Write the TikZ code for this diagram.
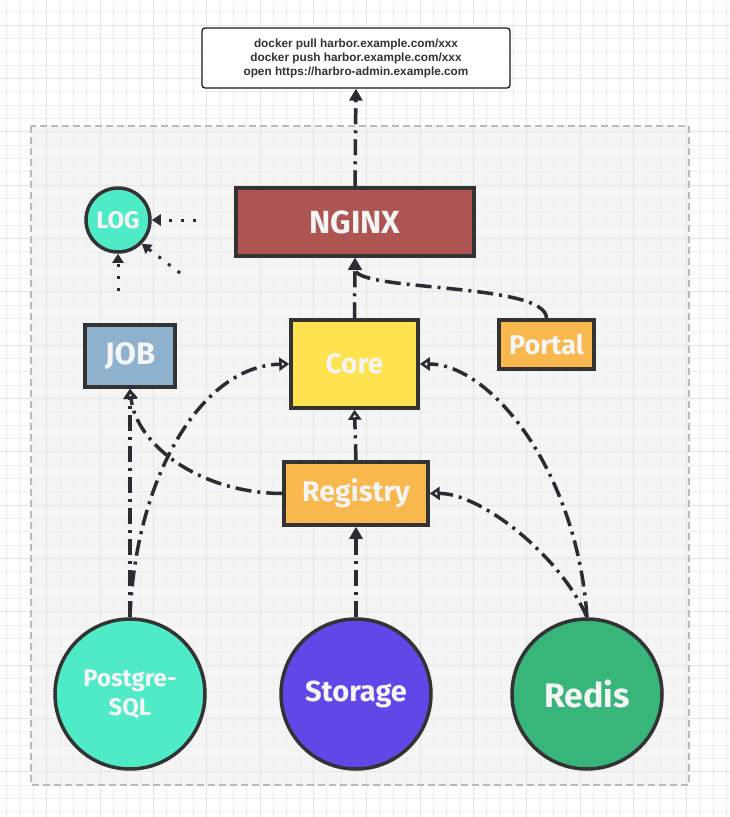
\documentclass[tikz,border=0pt]{standalone}
\usepackage{fontspec}
\setmainfont{Liberation Sans}
\newfontfamily\boxfont{Fira Sans}
\usetikzlibrary{arrows.meta}

\definecolor{ink}{HTML}{2B2B33}
\definecolor{edgegrey}{HTML}{333333}
\definecolor{paper}{HTML}{F5F5F5}
\definecolor{gridminor}{HTML}{EEEEEE}
\definecolor{gridmajor}{HTML}{E4E4E4}
\definecolor{nginxred}{HTML}{AE5551}
\definecolor{aqua}{HTML}{4FEBC6}
\definecolor{jobblue}{HTML}{8EB2CD}
\definecolor{coreyellow}{HTML}{FEE24F}
\definecolor{amber}{HTML}{F8B84E}
\definecolor{violet}{HTML}{5F47E8}
\definecolor{redisgreen}{HTML}{38B57A}

\begin{document}
\begin{tikzpicture}[x=1pt, y=-1pt,
    box/.style={draw=edgegrey, line width=3.5pt, text=paper, font=\boxfont\bfseries},
    disc/.style={box, circle, minimum size=150pt, inner sep=0pt},
    flow/.style={draw=ink, line width=3.5pt, dash pattern=on 16pt off 6pt on 3pt off 6pt},
    hollow/.style={-{Triangle[open,length=10pt,width=13pt]}},
    filled/.style={-{Triangle[length=12pt,width=13pt]}},
    logflow/.style={draw=ink, line width=3pt, dash pattern=on 3pt off 9pt, -{Triangle[length=9pt,width=11pt]}}]
    \useasboundingbox (0,0) rectangle (730,817);
    \fill[white] (0,0) rectangle (730,817);
    \fill[paper] (31,126) rectangle (689,785);
    \foreach \i in {0,...,54} \draw[gridminor, line width=0.8pt] ({6.67+13.333*\i},0) -- ++(0,817);
    \foreach \j in {0,...,61} \draw[gridminor, line width=0.8pt] (0,{11.67+13.333*\j}) -- ++(730,0);
    \foreach \i in {0,...,13} \draw[gridmajor, line width=0.8pt] ({46.67+53.333*\i},0) -- ++(0,817);
    \foreach \j in {0,...,15} \draw[gridmajor, line width=0.8pt] (0,{25+53.333*\j}) -- ++(730,0);
    \draw[black!27, line width=1.3pt, dash pattern=on 7pt off 4pt] (31,126) rectangle (689,785);

    \node[draw=black!90, line width=1.3pt, rounded corners=3pt, fill=white, align=center,
        minimum width=308pt, minimum height=60pt,
        font=\fontsize{11.8}{14}\selectfont\bfseries, text=black!80] (Cmd) at (356,58)
        {docker pull harbor.example.com/xxx\\docker push harbor.example.com/xxx\\open https://harbro-admin.example.com};

    \node[box, fill=nginxred, minimum width=238pt, minimum height=68pt, font=\boxfont\bfseries\fontsize{32}{34}\selectfont] (NGINX) at (355,222) {NGINX};
    \node[box, circle, fill=aqua, minimum size=64pt, inner sep=0pt, font=\boxfont\bfseries\fontsize{24}{26}\selectfont] (Log) at (118,220) {LOG};
    \node[box, fill=jobblue, minimum width=90pt, minimum height=62pt, font=\boxfont\bfseries\fontsize{31}{33}\selectfont] (Job) at (130,356) {JOB};
    \node[box, fill=coreyellow, minimum width=127pt, minimum height=88pt, font=\boxfont\bfseries\fontsize{28}{30}\selectfont] (Core) at (354.5,364) {Core};
    \node[box, fill=amber, minimum width=95pt, minimum height=49pt, font=\boxfont\bfseries\fontsize{27}{29}\selectfont] (Portal) at (546.5,344.5) {Portal};
    \node[box, fill=amber, minimum width=144pt, minimum height=63pt, font=\boxfont\bfseries\fontsize{28.5}{30}\selectfont] (Registry) at (356,493.5) {Registry};

    \node[disc, fill=aqua, align=center, font=\boxfont\bfseries\fontsize{24}{29}\selectfont] (Pg) at (130,694) {Postgre-\\SQL};
    \node[disc, fill=violet, font=\boxfont\bfseries\fontsize{29}{31}\selectfont] (Storage) at (356,694) {Storage};
    \node[disc, fill=redisgreen, font=\boxfont\bfseries\fontsize{34}{36}\selectfont] (Redis) at (587,694) {Redis};

    \coordinate (LogA) at (196,220);
    \coordinate (LogB) at (180,273);
    \coordinate (LogC) at (118,291);

    \draw[flow, filled] (NGINX.north) -- (Cmd.south);
    \draw[flow, filled] (Core.north) -- (NGINX.south);
    \draw[flow, filled] (Portal.north) .. controls (546.5,282) and (355,292) .. (NGINX.south);
    \draw[flow, hollow] (Registry.north) -- (Core.south);
    \draw[flow, filled] (Storage.north) -- (Registry.south);
    \draw[flow, hollow] (Pg.north) -- (Job.south);
    \draw[flow, hollow] (Pg.north) .. controls (135,480) and (200,366) .. (Core.west);
    \draw[flow, hollow] (Registry.west) .. controls (200,493) and (136,445) .. (Job.south);
    \draw[flow, hollow] (Redis.north) .. controls (577,470) and (490,364) .. (Core.east);
    \draw[flow, hollow] (Redis.north) .. controls (560,555) and (480,493) .. (Registry.east);

    \draw[logflow] (LogA) -- (Log.east);
    \draw[logflow] (LogB) -- (Log.south east);
    \draw[logflow] (LogC) -- (Log.south);
\end{tikzpicture}
\end{document}
